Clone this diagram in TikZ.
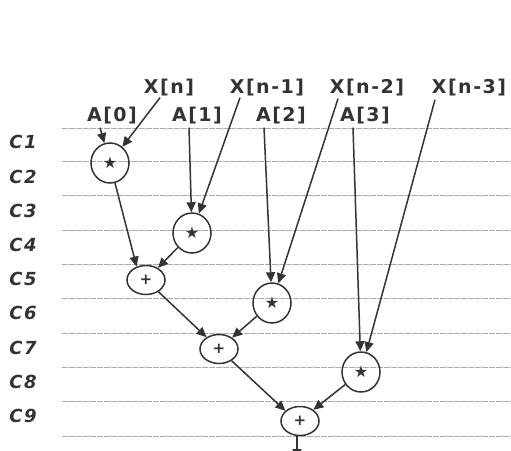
\documentclass[tikz,border=0pt]{standalone}
\usepackage{fontspec}
\setmainfont{DejaVu Sans}
\newfontfamily\labfont[LetterSpace=8]{DejaVu Sans Bold}
\newfontfamily\cycfont[LetterSpace=8]{DejaVu Sans Bold Oblique}
\newfontfamily\symfont{DejaVu Sans}
\newfontfamily\symboldfont{DejaVu Sans Bold}
\usetikzlibrary{shapes.geometric,arrows.meta}
\definecolor{ink}{HTML}{333333}
\definecolor{rulecol}{HTML}{ABABAB}
\tikzset{
  rulestyle/.style={rulecol, line width=0.8pt, dash pattern=on 6pt off 1pt},
  cyclab/.style={text=ink, font=\cycfont\fontsize{18}{18}\selectfont, inner sep=0pt},
  toplab/.style={text=ink, font=\labfont\fontsize{19}{19}\selectfont, inner sep=0pt},
  mulop/.style={draw=ink, line width=1.5pt, ellipse, minimum width=38pt, minimum height=40pt, inner sep=0pt, text=ink, font=\symfont\fontsize{16}{16}\selectfont},
  addop/.style={draw=ink, line width=1.5pt, ellipse, minimum width=38pt, minimum height=29pt, inner sep=0pt, text=ink, font=\symboldfont\fontsize{15}{15}\selectfont},
  arr/.style={draw=ink, line width=1.5pt, -{Triangle[length=10pt,width=9pt]}}
}
\begin{document}
\begin{tikzpicture}[x=1pt,y=-1pt]
\useasboundingbox (0,0) rectangle (511,450);
% cycle rules
\foreach \yy in {128,161,195,230,264,298,333,367,401,436}
  \draw[rulestyle] (62,\yy) -- (511,\yy);
% cycle labels
\foreach \i/\yy in {1/142,2/177,3/211,4/245,5/279,6/313,7/348,8/382,9/416}
  \node[cyclab] (c\i) at (23,\yy) {C\i};
% input labels
\node[toplab] (xn)  at (169,88) {X[n]};
\node[toplab] (xn1) at (267,88) {X[n-1]};
\node[toplab] (xn2) at (367,88) {X[n-2]};
\node[toplab] (xn3) at (469,88) {X[n-3]};
\node[toplab] (a0)  at (112,116) {A[0]};
\node[toplab] (a1)  at (197,116) {A[1]};
\node[toplab] (a2)  at (281,116) {A[2]};
\node[toplab] (a3)  at (365,116) {A[3]};
% operators
\node[mulop] (m0) at (110,163) {★};
\node[mulop] (m1) at (192,233) {★};
\node[mulop] (m2) at (272,303) {★};
\node[mulop] (m3) at (361,372) {★};
\node[addop] (s0) at (146,280) {+};
\node[addop] (s1) at (219,349) {+};
\node[addop] (s2) at (300,421) {+};
\coordinate (out) at (297,459);
% connectors
\draw[arr] ([xshift=-12pt,yshift=-3pt]a0.south) -- (m0);
\draw[arr] ([xshift=-9pt,yshift=-1pt]xn.south) -- (m0);
\draw[arr] ([xshift=-8pt,yshift=-3pt]a1.south) -- (m1);
\draw[arr] ([xshift=-27pt,yshift=-1pt]xn1.south) -- (m1);
\draw[arr] ([xshift=-17pt,yshift=-3pt]a2.south) -- (m2);
\draw[arr] ([xshift=-29pt,yshift=-2pt]xn2.south) -- (m2);
\draw[arr] ([xshift=-12pt,yshift=-3pt]a3.south) -- (m3);
\draw[arr] ([xshift=-34pt,yshift=-3pt]xn3.south) -- (m3);
\draw[arr] (m0.-76) -- (s0.125);
\draw[arr] (m1) -- (s0);
\draw[arr] (s0) -- (s1);
\draw[arr] (m2) -- (s1);
\draw[arr] (s1) -- (s2.145);
\draw[arr] (m3) -- (s2.40);
\draw[arr] ([xshift=-3pt]s2.south) -- (out);
\end{tikzpicture}
\end{document}
